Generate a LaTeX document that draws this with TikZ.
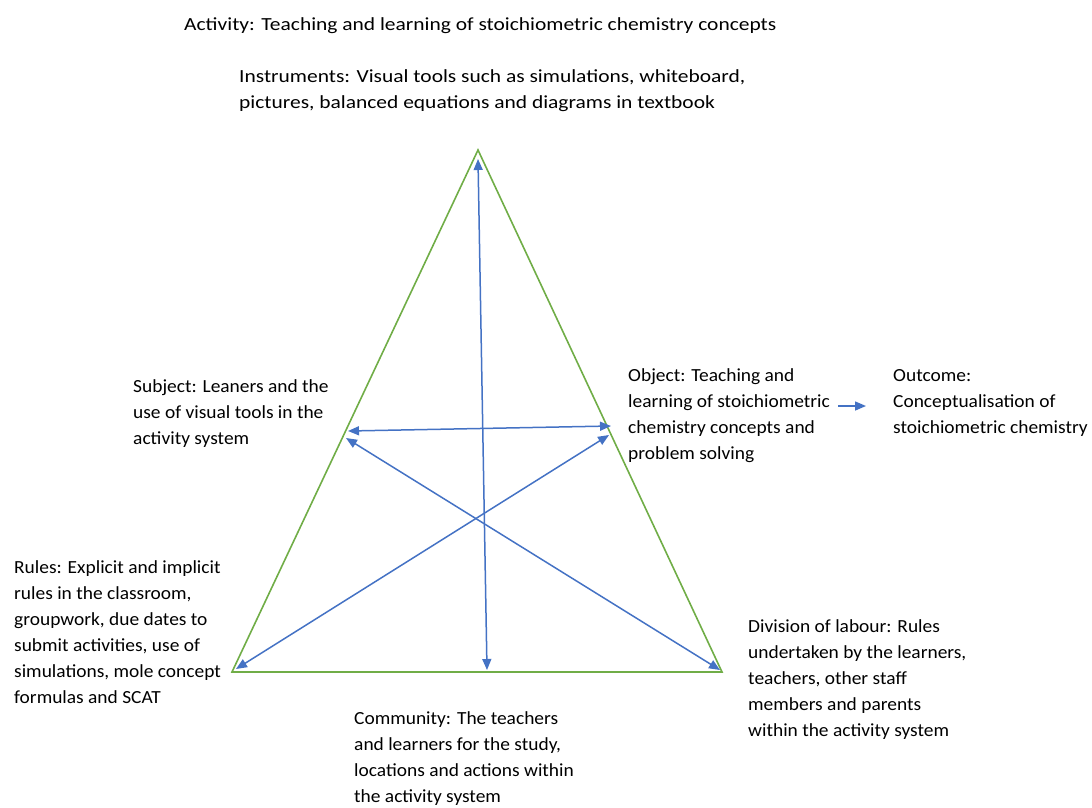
\documentclass[tikz,border=0pt]{standalone}
\usepackage{fontspec}
\setmainfont{Carlito}[FakeStretch=1.05]
\newfontfamily\widefont{Carlito}[FakeStretch=1.16]
\usetikzlibrary{arrows.meta,positioning}
\definecolor{sidegreen}{RGB}{112,173,71}
\definecolor{linkblue}{RGB}{68,114,196}

\begin{document}
\begin{tikzpicture}[
        x=1pt, y=-1pt,
        lbl/.style={anchor=base west, align=left, inner sep=0pt, font=\fontsize{18.5}{26}\selectfont},
        toplbl/.style={lbl, font=\widefont\fontsize{18.5}{26}\selectfont},
        side/.style={draw=sidegreen, line width=1.6pt, line join=miter},
        link/.style={draw=linkblue, line width=1.5pt, {Triangle[length=11pt,width=9pt]}-{Triangle[length=11pt,width=9pt]}},
        flow/.style={draw=linkblue, line width=1.5pt, -{Triangle[length=11pt,width=9pt]}},
    ]
        \useasboundingbox (0,0) rectangle (1092,807);

        % triangle corners
        \coordinate (apex) at (478,150);
        \coordinate (left) at (232,672);
        \coordinate (right) at (722,672);
        \draw[side] (apex) -- (left) -- (right) -- cycle;

        % ends of the links on the sides
        \coordinate (instr) at (478,159);
        \coordinate (comm) at (487,670);
        \coordinate (subjA) at (348,431);
        \coordinate (subjB) at (346,438);
        \coordinate (objA) at (611,426);
        \coordinate (objB) at (609,435);
        \coordinate (rules) at (236,669);
        \coordinate (divl) at (720,670);

        \draw[link] (instr) -- (comm);
        \draw[link] (subjA) -- (objA);
        \draw[link] (rules) -- (objB);
        \draw[link] (subjB) -- (divl);

        % labels (anchored at the baseline of the last line)
        \node[toplbl] (act) at (184,30) {Activity: Teaching and learning of stoichiometric chemistry concepts};
        \node[toplbl] (ins) at (239,108) {Instruments: Visual tools such as simulations, whiteboard,\\
        pictures, balanced equations and diagrams in textbook};
        \node[lbl] (sub) at (133,444) {Subject: Leaners and the\\
        use of visual tools in the\\
        activity system};
        \node[lbl] (obj) at (628,459) {Object: Teaching and\\
        learning of stoichiometric\\
        chemistry concepts and\\
        problem solving};
        \node[lbl] (out) at (893,433) {Outcome:\\
        Conceptualisation of\\
        stoichiometric chemistry};
        \node[lbl] (rul) at (14,703) {Rules: Explicit and implicit\\
        rules in the classroom,\\
        groupwork, due dates to\\
        submit activities, use of\\
        simulations, mole concept\\
        formulas and SCAT};
        \node[lbl] (div) at (748,736) {Division of labour: Rules\\
        undertaken by the learners,\\
        teachers, other staff\\
        members and parents\\
        within the activity system};
        \node[lbl] (com) at (354,802) {Community: The teachers\\
        and learners for the study,\\
        locations and actions within\\
        the activity system};

        \coordinate (outA) at (838,406);
        \coordinate (outB) at (866,406);
        \draw[flow] (outA) -- (outB);
    \end{tikzpicture}
\end{document}
